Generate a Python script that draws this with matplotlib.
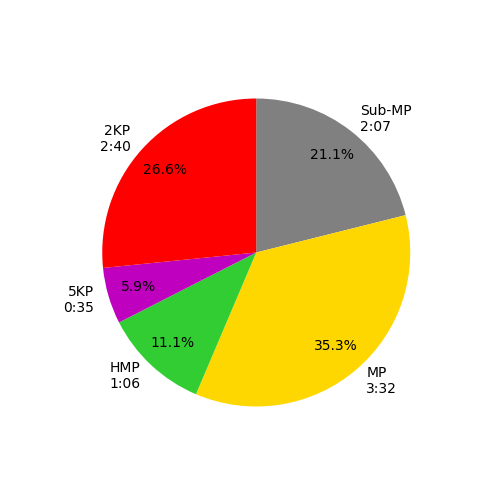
import matplotlib
matplotlib.use('Agg')
import matplotlib.pyplot as plt

# slice shares (percent) and labels
labels = ['Sub-MP\n2:07', 'MP\n3:32', 'HMP\n1:06', '5KP\n0:35', '2KP\n2:40']
shares = [21.1, 35.3, 11.1, 5.9, 26.6]
colors = ['grey', 'gold', 'limegreen', 'm', 'red']

fig, ax = plt.subplots(figsize=(5, 5), dpi=100)
ax.pie(shares, labels=labels, colors=colors, autopct='%1.1f%%',
       startangle=90, counterclock=False, pctdistance=0.8)
fig.savefig('out.png', dpi=100)
